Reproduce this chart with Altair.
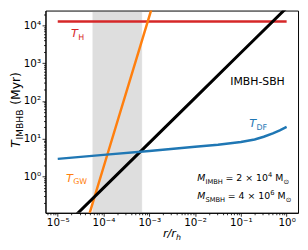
import altair as alt
import pandas as pd

# ---------------- data ----------------
# T_H (Hubble-like time), constant
th_x = [1e-5, 1.0]
th_y = [1.27e4, 1.27e4]

# T_GW (gravitational-wave time)
gw_x = [1e-5, 1e-4, 1e-3, 1e-2]
gw_y = [1.7e-4, 1.74, 1.74e4, 1.74e8]

# IMBH-SBH line
bh_x = [1e-5, 1e-4, 1e-3, 1e-2, 1e-1, 1.0]
bh_y = [0.0317, 0.494, 7.7, 120.0, 1876.0, 29240.0]

# T_DF (dynamical friction)
df_x = [1e-5, 1e-4, 1e-3, 1e-2, 3.16e-2, 0.1, 0.2, 0.316, 0.5, 0.708, 1.0]
df_y = [2.9, 3.7, 4.7, 6.1, 6.9, 8.1, 9.5, 11.2, 13.8, 16.6, 20.4]

# shaded band
band_lo = [5.8e-5]
band_hi = [6.9e-4]

# ticks
x_tick_values = [1e-5, 1e-4, 1e-3, 1e-2, 1e-1, 1.0]
x_tick_labels = ["10⁻⁵", "10⁻⁴", "10⁻³", "10⁻²", "10⁻¹", "10⁰"]
y_tick_values = [1.0, 10.0, 100.0, 1000.0, 10000.0]
y_tick_labels = ["10⁰", "10¹", "10²", "10³", "10⁴"]

x_domain = [5.4e-6, 1.774]
y_domain = [0.108, 24700.0]

# annotation anchors (data coordinates)
lab_th = (1.95e-5, 4900.0)
lab_gw = (1.52e-5, 0.72)
lab_df = (0.152, 20.0)
lab_bh = (0.231, 270.0)
lab_m1 = (0.0112, 0.74)
lab_m2 = (0.0112, 0.25)

FONT = "DejaVu Sans"
W, H = 256, 205

def minor_vals(lo, hi):
    out = []
    for k in range(-7, 6):
        for m in range(1, 10):
            v = m * 10.0 ** k
            if lo <= v <= hi:
                out.append(v)
    return out

def label_expr(vals, labels):
    parts = [f"abs(datum.value/{v!r}-1)<1e-6 ? '{l}'" for v, l in zip(vals, labels)]
    return " : ".join(parts) + " : ''"

major_test = "abs(log(datum.value)/LN10 - round(log(datum.value)/LN10)) < 1e-6"

def make_axis(vals, labels, lo, hi):
    return alt.Axis(
        values=minor_vals(lo, hi),
        labelExpr=label_expr(vals, labels),
        tickSize={"condition": {"test": major_test, "value": 3.5}, "value": 2.0},
        tickColor="black", tickWidth=0.8,
        labelFont=FONT, labelFontSize=10.5, labelColor="black",
        labelPadding=1.5, labelOverlap=False, labelFlush=False,
        grid=False, title=None, domainColor="black", domainWidth=1,
    )

xs = alt.Scale(type="log", domain=x_domain, nice=False, zero=False)
ys = alt.Scale(type="log", domain=y_domain, nice=False, zero=False)
xax = make_axis(x_tick_values, x_tick_labels, *x_domain)
yax = make_axis(y_tick_values, y_tick_labels, *y_domain)

def X(f="x"):
    return alt.X(f, type="quantitative", scale=xs, axis=xax)

def Y(f="y"):
    return alt.Y(f, type="quantitative", scale=ys, axis=yax)

band = alt.Chart(pd.DataFrame({"lo": band_lo, "hi": band_hi})).mark_rect(
    color="#808080", opacity=0.25, stroke="#808080", strokeOpacity=0.3, strokeWidth=1
).encode(x=X("lo"), x2="hi")

def line(xv, yv, color, width):
    return alt.Chart(pd.DataFrame({"x": xv, "y": yv})).mark_line(
        color=color, strokeWidth=width, clip=True
    ).encode(x=X(), y=Y())

l_th = line(th_x, th_y, "#d62728", 2.5)
l_gw = line(gw_x, gw_y, "#ff7f0e", 2.5)
l_bh = line(bh_x, bh_y, "black", 3)
l_df = line(df_x, df_y, "#1f77b4", 2.5)

def seg(anchor, text, size, color, dx=0, dy=0, italic=False, align="left"):
    d = pd.DataFrame({"x": [anchor[0]], "y": [anchor[1]], "t": [text]})
    kw = dict(font=FONT, fontSize=size, color=color, dx=dx, dy=dy,
              align=align, baseline="alphabetic")
    if italic:
        kw["fontStyle"] = "italic"
    return alt.Chart(d).mark_text(**kw).encode(x=X(), y=Y(), text="t:N")

texts = [
    seg(lab_th, "T", 11.5, "#d62728", italic=True),
    seg(lab_th, "H", 8, "#d62728", dx=7.3, dy=2.5),
    seg(lab_gw, "T", 11.5, "#ff7f0e", italic=True),
    seg(lab_gw, "GW", 8, "#ff7f0e", dx=7.3, dy=2.5),
    seg(lab_df, "T", 11.5, "#1f77b4", italic=True),
    seg(lab_df, "DF", 8, "#1f77b4", dx=7.3, dy=2.5),
    seg(lab_bh, "IMBH-SBH", 11, "black", align="center"),
    seg(lab_m1, "M", 9.5, "black", italic=True),
    seg(lab_m1, "IMBH", 6.8, "black", dx=8.3, dy=2.5),
    seg(lab_m1, "= 2 × 10", 9.5, "black", dx=28.5),
    seg(lab_m1, "4", 6.8, "black", dx=71.7, dy=-4),
    seg(lab_m1, "M", 9.5, "black", dx=79),
    seg(lab_m1, "⊙", 6.8, "black", dx=87.3, dy=2.5),
    seg(lab_m2, "M", 9.5, "black", italic=True),
    seg(lab_m2, "SMBH", 6.8, "black", dx=8.3, dy=2.5),
    seg(lab_m2, "= 4 × 10", 9.5, "black", dx=30.8),
    seg(lab_m2, "6", 6.8, "black", dx=74, dy=-4),
    seg(lab_m2, "M", 9.5, "black", dx=81.3),
    seg(lab_m2, "⊙", 6.8, "black", dx=89.6, dy=2.5),
]

one = pd.DataFrame({"k": [0]})

def ptext(text, x, y, size, dx=0, dy=0, italic=False, angle=0, baseline="alphabetic"):
    kw = dict(text=text, font=FONT, fontSize=size, color="black", dx=dx, dy=dy,
              align="left", baseline=baseline, angle=angle)
    if italic:
        kw["fontStyle"] = "italic"
    return alt.Chart(one).mark_text(**kw).encode(x=alt.value(x), y=alt.value(y))

# axis titles
yt_x, yt_y = -26, 139
xt_x, xt_y = 119, 230
titles = [
    ptext("T", yt_x, yt_y, 12.5, italic=True, angle=270),
    ptext("IMBHB", yt_x, yt_y, 9.3, dx=8.2, dy=3, angle=270),
    ptext("(Myr)", yt_x, yt_y, 12.5, dx=43.5, angle=270),
    ptext("r/r", xt_x, xt_y, 11.5, italic=True),
    ptext("h", xt_x, xt_y, 8, dx=13.3, dy=2.5, italic=True),
]

chart = alt.layer(band, l_th, l_gw, l_bh, l_df, *texts, *titles).properties(
    width=W, height=H,
    padding={"left": 38, "top": 1, "right": 2, "bottom": 28},
    autosize=alt.AutoSizeParams(type="none"),
    background="white",
).configure_view(stroke="black", strokeWidth=1)

chart.save("out.html", embed_options={"renderer": "svg", "actions": False})
